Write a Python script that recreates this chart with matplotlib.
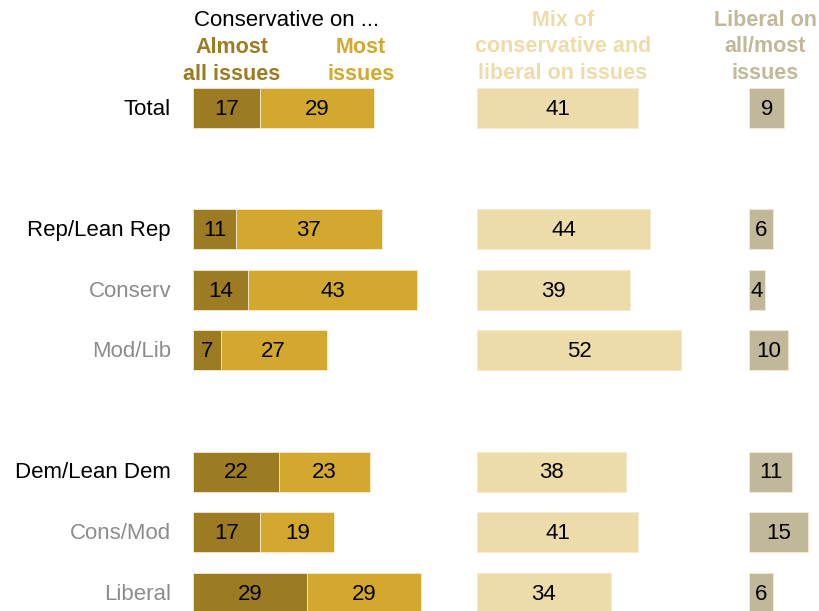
import numpy as np
import matplotlib.pyplot as plt

plt.rcParams['font.family'] = ['Liberation Sans', 'DejaVu Sans']

groups = ['Total', 'Rep/Lean Rep', 'Conserv', 'Mod/Lib', 'Dem/Lean Dem', 'Cons/Mod', 'Liberal']
rows = [0, 2, 3, 4, 6, 7, 8]
main_group = [True, True, False, False, True, False, False]
almost_all = [17, 11, 14, 7, 22, 17, 29]
most = [29, 37, 43, 27, 23, 19, 29]
mix = [41, 44, 39, 52, 38, 41, 34]
liberal = [9, 6, 4, 10, 11, 15, 6]

c_almost = '#9c7b22'
c_most = '#d3a82f'
c_mix = '#eddcaa'
c_lib = '#c1b899'

W, H = 819, 611
fig = plt.figure(figsize=(W / 100, H / 100), dpi=100)
ax = fig.add_axes([0, 0, 1, 1])
ppu = 3.93
x0 = 193
ax.set_xlim(-x0 / ppu, (W - x0) / ppu)
ax.set_ylim((611 - 108) / 60.6, -108 / 60.6)
ax.axis('off')

mix_off = (477 - x0) / ppu
lib_off = (749 - x0) / ppu
h = 0.66
ec = '#f3ead0'

ax.barh(rows, almost_all, height=h, color=c_almost, edgecolor=ec, linewidth=0.6)
ax.barh(rows, most, left=almost_all, height=h, color=c_most, edgecolor=ec, linewidth=0.6)
ax.barh(rows, mix, left=mix_off, height=h, color=c_mix, edgecolor=ec, linewidth=0.6)
ax.barh(rows, liberal, left=lib_off, height=h, color=c_lib, edgecolor=ec, linewidth=0.6)

fs = 16
for i, r in enumerate(rows):
    a, m, x, l = almost_all[i], most[i], mix[i], liberal[i]
    ax.text(a / 2, r + 0.02, str(a), ha='center', va='center', fontsize=fs)
    ax.text(a + m / 2, r + 0.02, str(m), ha='center', va='center', fontsize=fs)
    ax.text(mix_off + x / 2, r + 0.02, str(x), ha='center', va='center', fontsize=fs)
    ax.text(lib_off + l / 2, r + 0.02, str(l), ha='center', va='center', fontsize=fs)
    ax.text((171 - x0) / ppu, r + 0.02, groups[i], ha='right', va='center', fontsize=16,
            color='black' if main_group[i] else '#8c8c8c')

def ftext(px, py, s, **kw):
    fig.text(px / W, 1 - py / H, s, ha='center', va='center', **kw)

hs = 15.5
ls = 1.32
ftext(287, 20, 'Conservative on ...', fontsize=16)
ftext(232, 61, 'Almost\nall issues', fontsize=hs, fontweight='bold', color=c_almost, linespacing=ls)
ftext(361, 61, 'Most\nissues', fontsize=hs, fontweight='bold', color=c_most, linespacing=ls)
ftext(563, 47, 'Mix of\nconservative and\nliberal on issues', fontsize=hs, fontweight='bold',
      color=c_mix, linespacing=ls)
ftext(765, 47, 'Liberal on\nall/most\nissues', fontsize=hs, fontweight='bold', color=c_lib,
      linespacing=ls)

fig.savefig('out.png', dpi=100)
